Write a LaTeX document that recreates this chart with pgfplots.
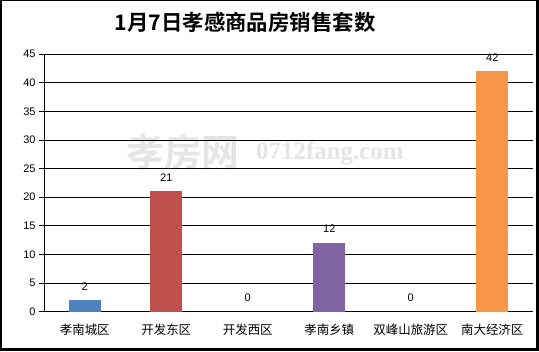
\documentclass[border=0pt]{standalone}
\usepackage{pgfplots}
\pgfplotsset{compat=1.18}
\usepackage{fontspec}
\setmainfont{Liberation Sans}
\newfontfamily\cjk[BoldFont={Noto Sans CJK SC Bold}]{Noto Sans CJK SC}
\newfontfamily\wmserif{Liberation Serif}
\definecolor{cblue}{HTML}{4F81BD}
\definecolor{cred}{HTML}{C0504D}
\definecolor{cpurple}{HTML}{8064A2}
\definecolor{corange}{HTML}{F79646}
\begin{document}
\begin{tikzpicture}[x=1bp,y=1bp]
\useasboundingbox (0,0) rectangle (539,351);
\fill[white] (0,0) rectangle (539,351);
\node[text=black!10, font=\cjk\bfseries\fontsize{38}{38}\selectfont, anchor=west, inner sep=0] at (126,199) {孝房网};
\node[text=black!10, font=\wmserif\bfseries\fontsize{25}{25}\selectfont, anchor=west, inner sep=0] at (256,198) {0712fang.com};
\node[font=\cjk\bfseries\fontsize{21.5}{22}\selectfont, inner sep=0] at (245,329) {1月7日孝感商品房销售套数};
\begin{axis}[
  at={(44bp,39.3bp)}, anchor=south west,
  scale only axis, width=489bp, height=257.7bp,
  xmin=-0.5, xmax=5.5, ymin=0, ymax=45,
  ytick={0,5,...,45},
  xtick={0,1,2,3,4,5},
  xticklabels={孝南城区,开发东区,开发西区,孝南乡镇,双峰山旅游区,南大经济区},
  /pgf/number format/assume math mode=true,
  x tick label style={font=\cjk\fontsize{12.5}{14}\selectfont, yshift=-4bp},
  y tick label style={font=\fontsize{11}{13}\selectfont},
  major x tick style={draw=none},
  extra x ticks={-0.5,0.5,1.5,2.5,3.5,4.5,5.5},
  extra x tick labels={},
  extra x tick style={grid=none, major tick style={draw=black, line width=0.8bp}},
  tick align=outside, major tick length=5bp,
  tick style={black, line width=0.8bp},
  ymajorgrids, grid style={black, line width=0.8bp},
  axis lines*=left, axis line style={-, black, line width=0.8bp},
  ybar, bar width=32bp, bar shift=0pt,
  nodes near coords,
  every node near coord/.append style={font=\fontsize{11}{13}\selectfont, anchor=center, yshift=14bp, black},
  clip=false,
]
\addplot[fill=cblue, draw=none] coordinates {(0,2)};
\addplot[fill=cred, draw=none] coordinates {(1,21)};
\addplot[fill=none, draw=none] coordinates {(2,0)};
\addplot[fill=cpurple, draw=none] coordinates {(3,12)};
\addplot[fill=none, draw=none] coordinates {(4,0)};
\addplot[fill=corange, draw=none] coordinates {(5,42)};
\end{axis}
\draw[black, line width=1.5bp] (0.75,0.75) rectangle (538.25,350.25);
\draw[black, line width=3bp] (537.5,0) -- (537.5,351);
\draw[black, line width=3bp] (0,1.5) -- (539,1.5);
\end{tikzpicture}
\end{document}
